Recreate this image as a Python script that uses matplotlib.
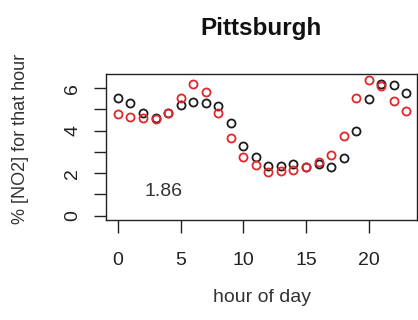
"""
Hourly NO2 profile for Pittsburgh: share of daily [NO2] in each hour, two series.
"""
import matplotlib
matplotlib.use('Agg')
import matplotlib.pyplot as plt
import numpy as np

plt.rcParams['font.family'] = ['Liberation Sans', 'DejaVu Sans']

hours = np.arange(24)

# percent of the daily total falling in each hour
pct_black = [5.52, 5.29, 4.85, 4.58, 4.85, 5.21, 5.37, 5.29, 5.18, 4.35, 3.30, 2.75,
             2.36, 2.36, 2.44, 2.31, 2.43, 2.29, 2.71, 3.99, 5.49, 6.20, 6.15, 5.76]
pct_red = [4.79, 4.66, 4.58, 4.54, 4.85, 5.52, 6.18, 5.81, 4.82, 3.65, 2.75, 2.39,
           2.08, 2.11, 2.16, 2.31, 2.55, 2.86, 3.77, 5.52, 6.38, 6.12, 5.40, 4.93]

note = "1.86"
x_ticks = [0, 5, 10, 15, 20]
y_ticks = [0, 1, 2, 3, 4, 5, 6]
y_labels = ["0", "", "2", "", "4", "", "6"]

fig = plt.figure(figsize=(4.18, 3.2), dpi=100)
ax = fig.add_axes([106 / 418, 1 - 220 / 320, 311 / 418, 146 / 320])

ax.plot(hours, pct_black, 'o', mfc='none', mec='#1c1c1c', ms=5.8, mew=1.3)
ax.plot(hours, pct_red, 'o', mfc='none', mec='#e3262c', ms=5.8, mew=1.3)

ax.text(3.6, 1.16, note, fontsize=14, color='#333333', ha='center', va='center')

ax.set_xlim(-0.95, 23.85)
ax.set_ylim(-0.2, 6.67)
ax.set_xticks(x_ticks)
ax.set_xticklabels([str(t) for t in x_ticks])
ax.set_yticks(y_ticks)
ax.set_yticklabels(y_labels, rotation=90, va='center')
ax.tick_params(axis='both', length=9, width=1.0, colors='#222222', labelsize=14)
ax.tick_params(axis='x', pad=14)
ax.tick_params(axis='y', pad=9)
for s in ax.spines.values():
    s.set_linewidth(1.0)
    s.set_color('#222222')

fig.text(261.5 / 418, 1 - 35 / 320, "Pittsburgh", fontsize=17.5, fontweight='bold',
         ha='center', va='baseline', color='#111111')
fig.text(262 / 418, 1 - 298 / 320, "hour of day", fontsize=14, ha='center', va='center',
         color='#333333')
fig.text(21 / 418, 1 - 139 / 320, "% [NO2] for that hour", fontsize=13, rotation=90,
         ha='center', va='center', color='#333333')

fig.savefig('out.png', dpi=100)
